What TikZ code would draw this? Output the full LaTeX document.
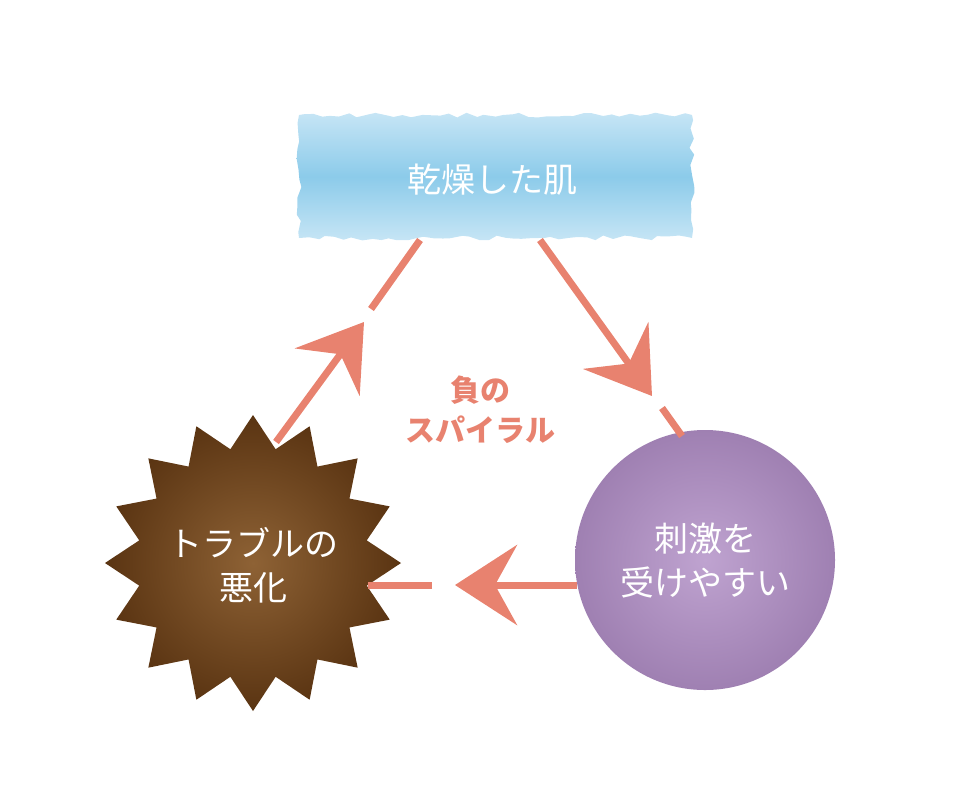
\documentclass[tikz,border=0pt]{standalone}
\usepackage{fontspec}
\setmainfont{Noto Sans CJK JP}
\usetikzlibrary{arrows.meta,decorations.pathmorphing}
\definecolor{arr}{HTML}{E8826F}
\definecolor{blueA}{HTML}{C6E5F5}
\definecolor{blueB}{HTML}{8CCBEA}
\definecolor{purA}{HTML}{BFA3D0}
\definecolor{purB}{HTML}{9F80B2}
\definecolor{brA}{HTML}{8E6235}
\definecolor{brB}{HTML}{5A3412}
\tikzset{
  conn/.style={draw=arr,line width=7pt},
  tipped/.style={conn,-{Stealth[length=62pt,width=80pt,inset=22pt]}},
  lbl/.style={text=white,font=\fontsize{34}{44}\selectfont,align=center},
}
\begin{document}
\begin{tikzpicture}[x=1pt,y=-1pt]
\useasboundingbox (0,0) rectangle (957,807);
% blue box
\path[top color=blueA,bottom color=blueA,middle color=blueB,
  decorate,decoration={random steps,segment length=9pt,amplitude=2.5pt}]
  (299,115) rectangle (692,238);
\node[lbl] (dry) at (492,180) {乾燥した肌};
% circle
\shade[inner color=purA,outer color=purB] (705,560) circle (130);
\node[lbl] (sti) at (705,560) {刺激を\\受けやすい};
% star
\begin{scope}[shift={(253,563)}]
\shade[inner color=brA,outer color=brB] (90:148)
  \foreach \i in {0,...,15} { -- (\i*22.5+90:148) -- (\i*22.5+101.25:116) } -- cycle;
\end{scope}
\node[lbl] (tro) at (253,565) {トラブルの\\悪化};
% center text
\node[text=arr,font=\bfseries\fontsize{30}{40}\selectfont,align=center] (neg) at (480,410) {負の\\スパイラル};
% arrows
\coordinate (a1s) at (540,240); \coordinate (a1t) at (652,396);
\coordinate (a1b) at (662,408); \coordinate (a1e) at (682,436);
\draw[tipped] (a1s) -- (a1t);
\draw[conn] (a1b) -- (a1e);
\coordinate (a2s) at (577,585); \coordinate (a2t) at (455,585);
\coordinate (a2b) at (432,585); \coordinate (a2e) at (368,585);
\draw[tipped] (a2s) -- (a2t);
\draw[conn] (a2b) -- (a2e);
\coordinate (a3s) at (276,442); \coordinate (a3t) at (364,322);
\coordinate (a3b) at (371,309); \coordinate (a3e) at (420,240);
\draw[tipped] (a3s) -- (a3t);
\draw[conn] (a3b) -- (a3e);
\end{tikzpicture}
\end{document}
